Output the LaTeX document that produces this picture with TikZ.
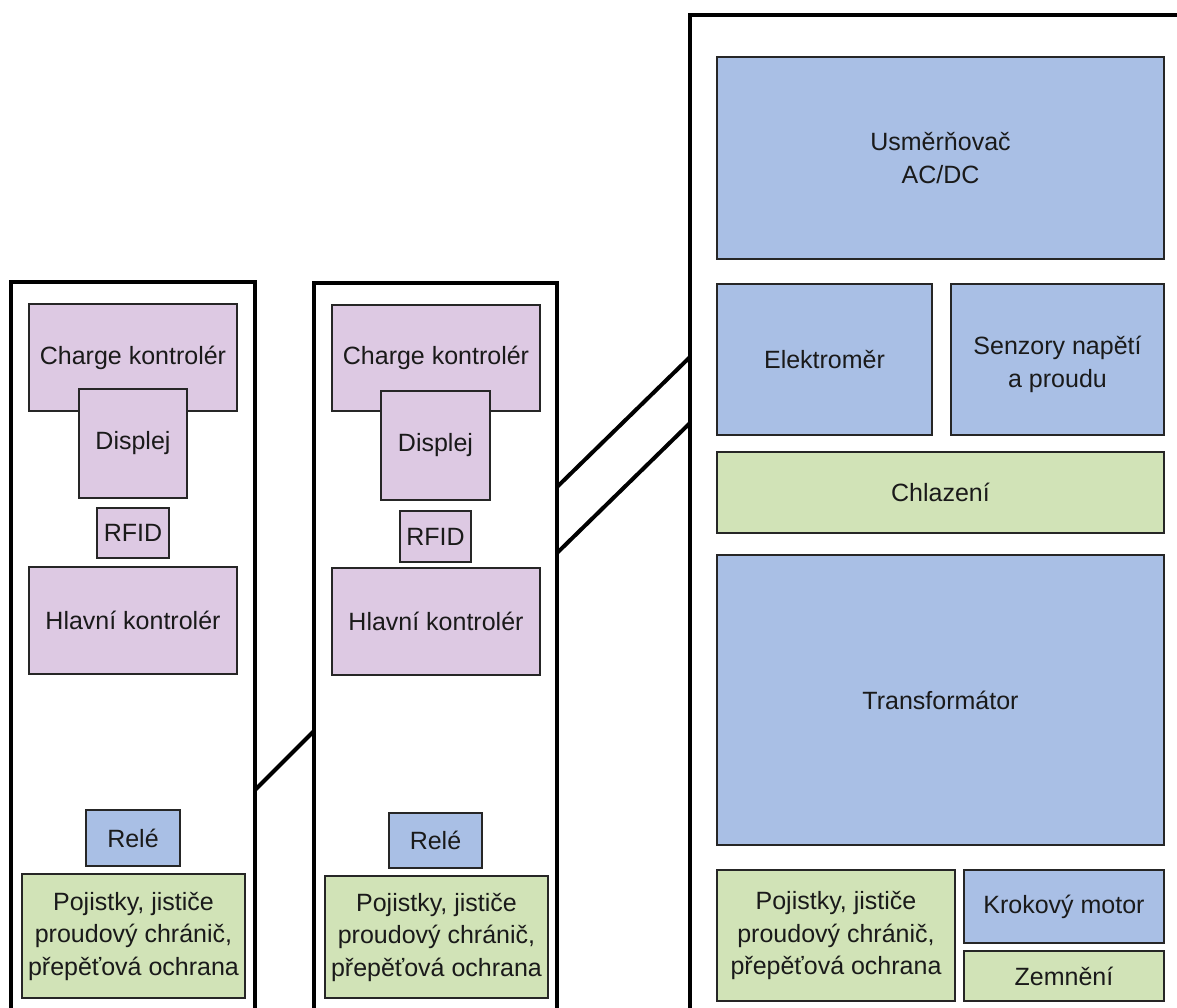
\documentclass[tikz,border=0pt]{standalone}
\usepackage{fontspec}
\setmainfont{Liberation Sans}
\definecolor{pfill}{HTML}{DDC9E3}
\definecolor{bfill}{HTML}{A9BFE5}
\definecolor{gfill}{HTML}{D1E3B7}
\definecolor{txt}{HTML}{1A1A1A}
\tikzset{
  inbox/.style={draw=black!85, line width=2pt, inner sep=0pt, outer sep=0pt, align=center, text=txt,
    font=\fontsize{25}{32.5}\selectfont},
  pbox/.style={inbox, fill=pfill},
  bbox/.style={inbox, fill=bfill},
  gbox/.style={inbox, fill=gfill},
  outerbox/.style={draw=black, line width=4pt, inner sep=0pt, outer sep=0pt, anchor=north west},
  conn/.style={draw=black, line width=4pt},
}
\begin{document}
\begin{tikzpicture}[x=1pt,y=-1pt]
\clip (0,0) rectangle (1177,1007);
\fill[white] (0,0) rectangle (1177,1007);
% outer enclosures (open below / right)
\node[outerbox, minimum width=244, minimum height=760] (outL) at (11,282) {};
\node[outerbox, minimum width=243, minimum height=760] (outM) at (314,283) {};
\node[outerbox, minimum width=540, minimum height=1030] (outR) at (690,15) {};
% left column
\node[pbox, minimum width=208, minimum height=107] (cc1) at (133,357.5) {Charge kontrolér};
\node[pbox, minimum width=108, minimum height=109] (disp1) at (133,443.5) {Displej};
\node[pbox, minimum width=72, minimum height=50] (rfid1) at (133,533) {RFID};
\node[pbox, minimum width=208, minimum height=107] (hk1) at (133,620.5) {Hlavní kontrolér};
\node[bbox, minimum width=94, minimum height=56] (rele1) at (133,838) {Relé};
\node[gbox, minimum width=223, minimum height=124] (poj1) at (133.5,936) {Pojistky, jističe\\proudový chránič,\\přepěťová ochrana};
% middle column
\node[pbox, minimum width=208, minimum height=106] (cc2) at (436,358) {Charge kontrolér};
\node[pbox, minimum width=109, minimum height=109] (disp2) at (435.5,445.5) {Displej};
\node[pbox, minimum width=71, minimum height=51] (rfid2) at (435.5,536.5) {RFID};
\node[pbox, minimum width=208, minimum height=107] (hk2) at (436,621.5) {Hlavní kontrolér};
\node[bbox, minimum width=93, minimum height=55] (rele2) at (435.5,840.5) {Relé};
\node[gbox, minimum width=223, minimum height=122] (poj2) at (436.5,937) {Pojistky, jističe\\proudový chránič,\\přepěťová ochrana};
% right column
\node[bbox, minimum width=447, minimum height=202] (usm) at (940.5,158) {Usměrňovač\\AC/DC};
\node[bbox, minimum width=215, minimum height=151] (elek) at (824.5,359.5) {Elektroměr};
\node[bbox, minimum width=213, minimum height=151] (senz) at (1057.5,359.5) {\\[-4pt]Senzory napětí\\a proudu};
\node[gbox, minimum width=447, minimum height=81] (chl) at (940.5,492.5) {Chlazení};
\node[bbox, minimum width=447, minimum height=290] (trans) at (940.5,700) {Transformátor};
\node[gbox, minimum width=238, minimum height=131] (poj3) at (836,935.5) {Pojistky, jističe\\proudový chránič,\\přepěťová ochrana};
\node[bbox, minimum width=200, minimum height=73] (krok) at (1064,906.5) {Krokový motor};
\node[gbox, minimum width=200, minimum height=50] (zem) at (1064,976) {Zemnění};
% connector end points on the enclosure sides
\coordinate (a1) at ([yshift=-508pt]outL.north east);
\coordinate (b1) at ([yshift=-448pt]outM.north west);
\coordinate (a2) at ([yshift=-204pt]outM.north east);
\coordinate (b2) at ([yshift=-342pt]outR.north west);
\coordinate (a3) at ([yshift=-270pt]outM.north east);
\coordinate (b3) at ([yshift=-408pt]outR.north west);
\draw[conn] (a1) -- (b1);
\draw[conn] (a2) -- (b2);
\draw[conn] (a3) -- (b3);
\end{tikzpicture}
\end{document}
